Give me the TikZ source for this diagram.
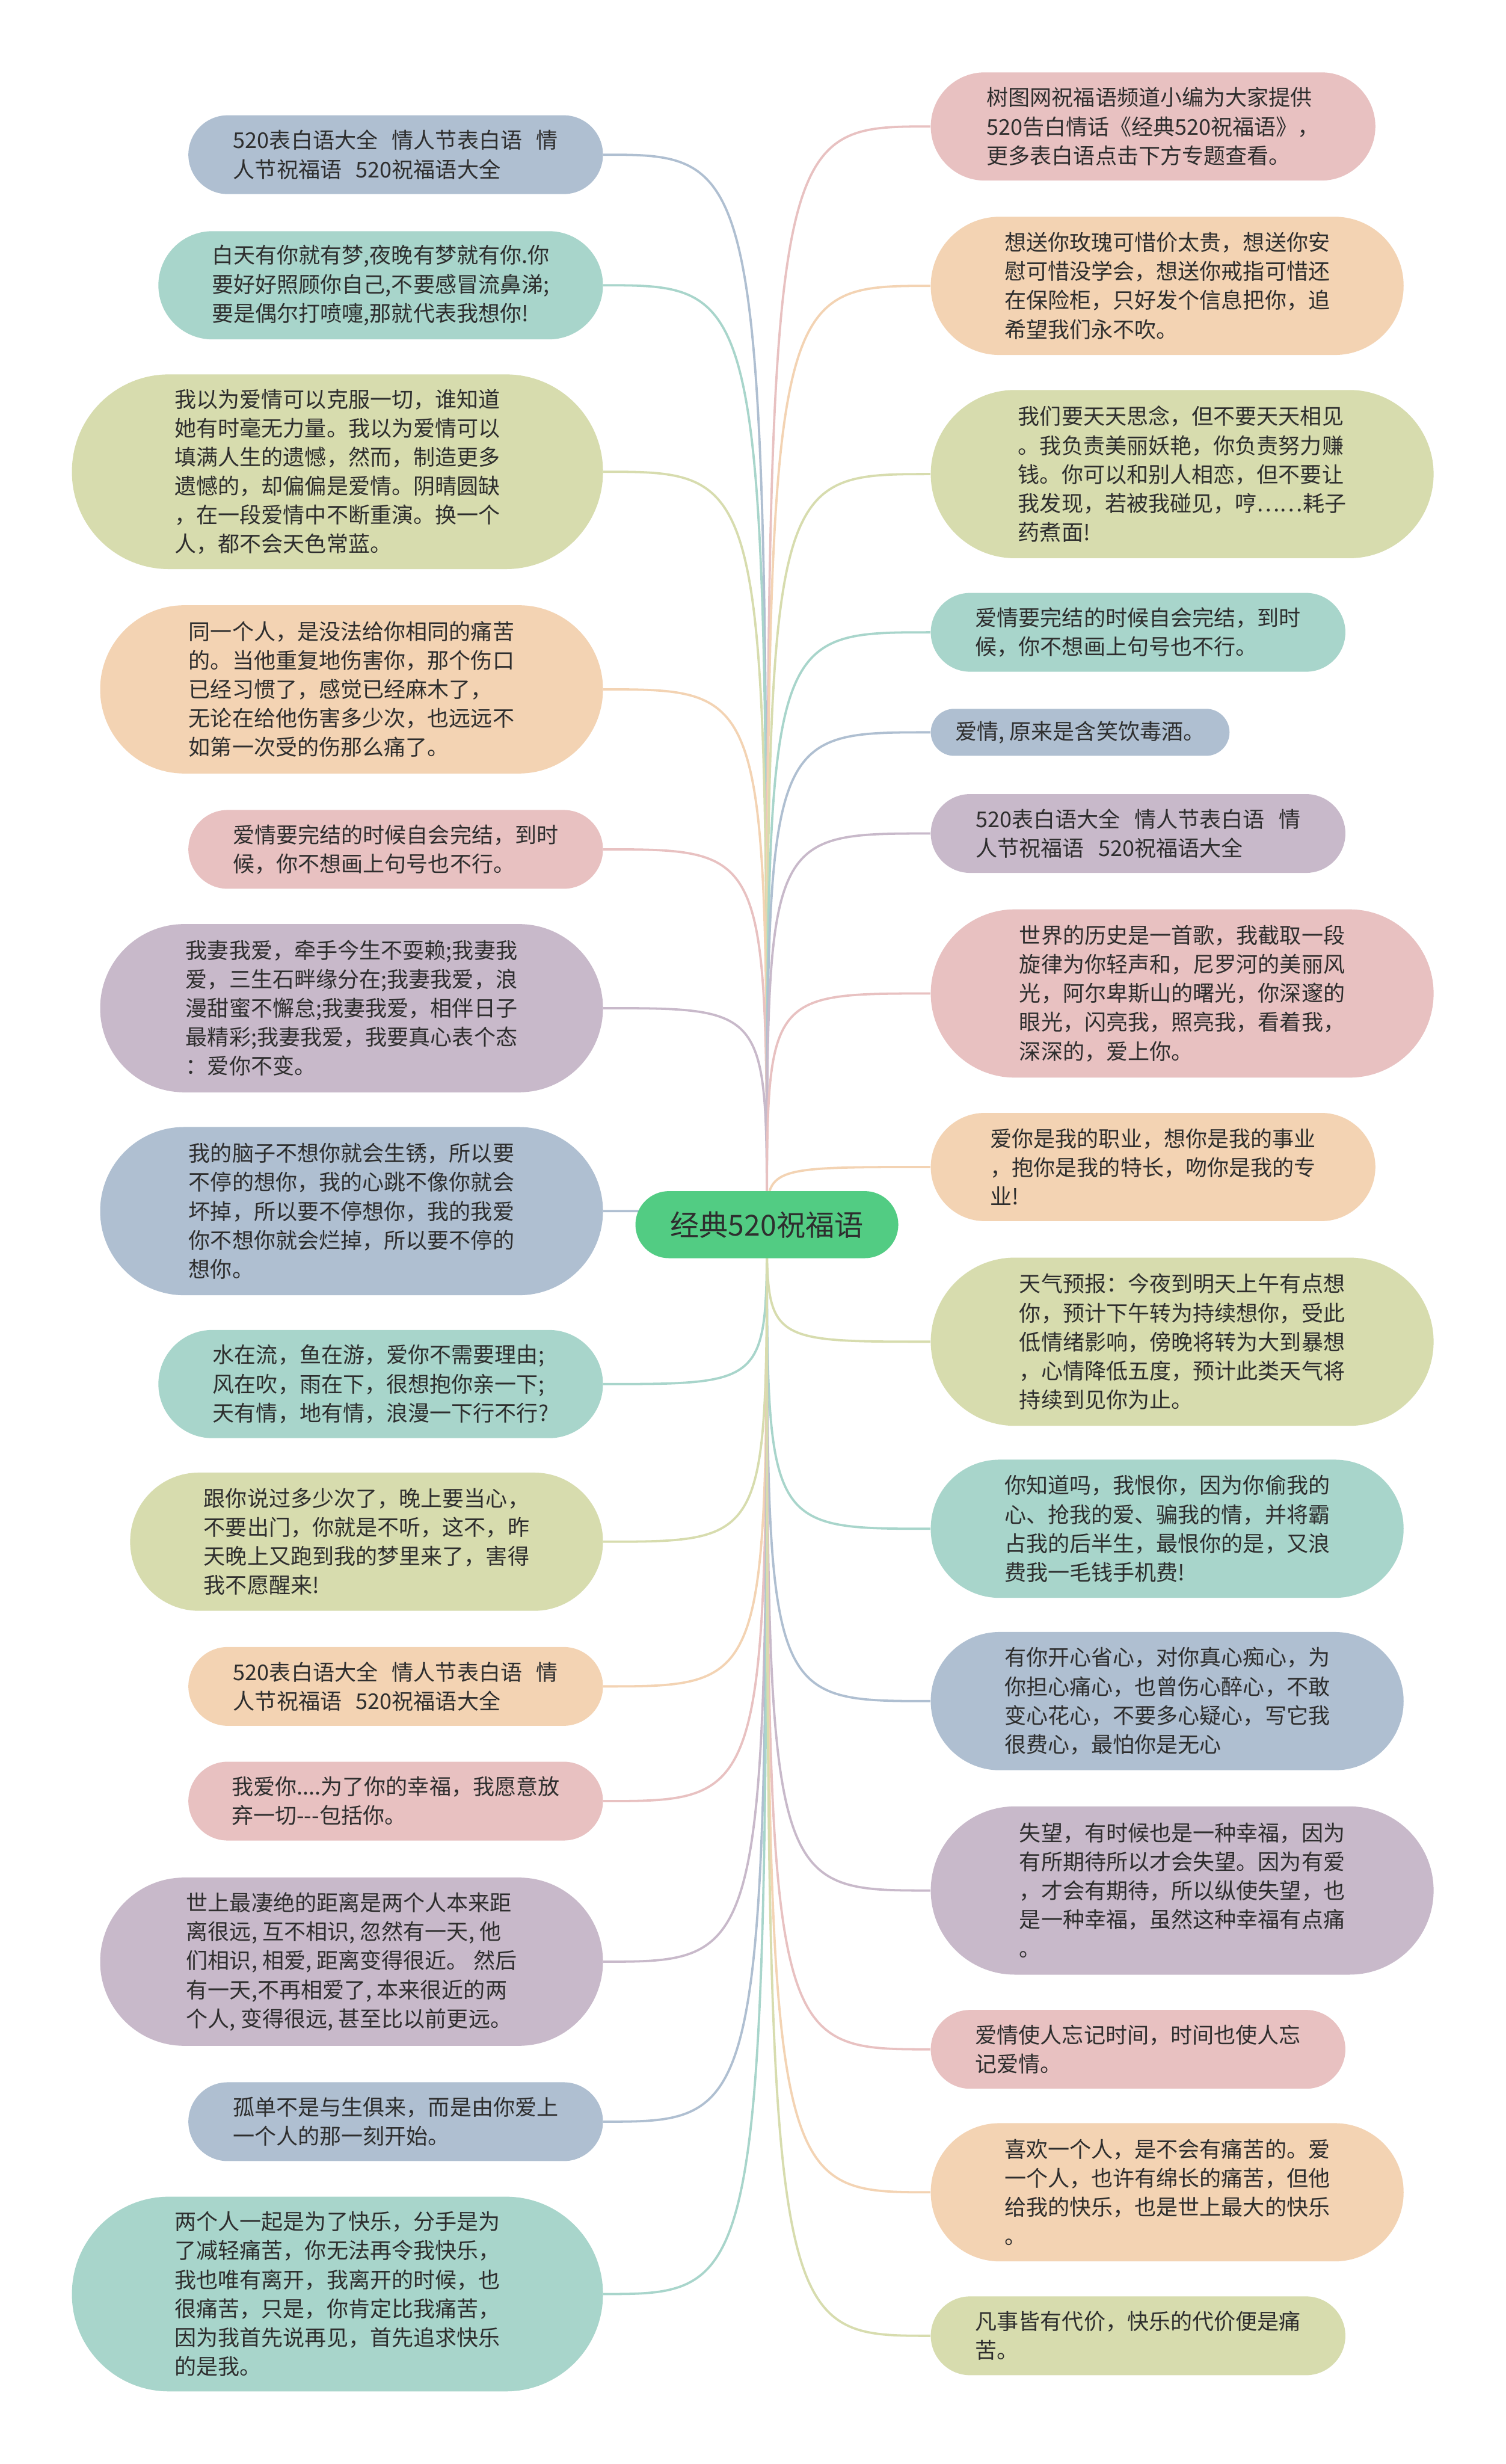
\documentclass[tikz,border=0pt]{standalone}
\usepackage{fontspec}
\setmainfont{Noto Sans CJK SC}
\usetikzlibrary{backgrounds}
\definecolor{cblue}{HTML}{AFBFD1}
\definecolor{cteal}{HTML}{A8D5CB}
\definecolor{colive}{HTML}{D7DCAE}
\definecolor{corange}{HTML}{F3D3B3}
\definecolor{cpink}{HTML}{E8C1C1}
\definecolor{cpurple}{HTML}{C8B9CA}
\definecolor{cgreen}{HTML}{52CC83}
\definecolor{ctext}{HTML}{2E2E2E}
\tikzset{
  bub/.style={draw=none, inner sep=0pt, align=left, text=ctext,
    font=\fontsize{10.5pt}{14pt}\selectfont},
  lbub/.style={bub, anchor=east},
  rbub/.style={bub, anchor=west},
  conn/.style={line width=1.1pt},
}
\newcommand{\gp}{\hspace{0.65em}}
\begin{document}
\begin{tikzpicture}[x=1cm,y=-1cm]
\useasboundingbox (0,0) rectangle (25.6,41.89);

% central node
\node[fill=cgreen, draw=none, minimum width=4.47cm, minimum height=1.14cm, rounded corners=0.57cm,
  text=ctext, font=\fontsize{14pt}{16pt}\selectfont, inner sep=0pt] (c) at (13.04,20.82) {经典520祝福语};

% left bubbles
\node[lbub, fill=cblue, minimum width=7.05cm, minimum height=1.34cm, rounded corners=0.67cm] (L1) at (10.26,2.63)
 {520表白语大全\gp 情人节表白语\gp 情\\人节祝福语\gp 520祝福语大全};
\node[lbub, fill=cteal, minimum width=7.56cm, minimum height=1.84cm, rounded corners=0.92cm] (L2) at (10.26,4.85)
 {白天有你就有梦,夜晚有梦就有你.你\\要好好照顾你自己,不要感冒流鼻涕;\\要是偶尔打喷嚏,那就代表我想你!};
\node[lbub, fill=colive, minimum width=9.03cm, minimum height=3.31cm, rounded corners=1.65cm] (L3) at (10.26,8.02)
 {我以为爱情可以克服一切，谁知道\\她有时毫无力量。我以为爱情可以\\填满人生的遗憾，然而，制造更多\\遗憾的，却偏偏是爱情。阴晴圆缺\\，在一段爱情中不断重演。换一个\\人，都不会天色常蓝。};
\node[lbub, fill=corange, minimum width=8.55cm, minimum height=2.86cm, rounded corners=1.43cm] (L4) at (10.26,11.72)
 {同一个人，是没法给你相同的痛苦\\的。当他重复地伤害你，那个伤口\\已经习惯了，感觉已经麻木了，\\无论在给他伤害多少次，也远远不\\如第一次受的伤那么痛了。};
\node[lbub, fill=cpink, minimum width=7.05cm, minimum height=1.34cm, rounded corners=0.67cm] (L5) at (10.26,14.44)
 {爱情要完结的时候自会完结，到时\\候，你不想画上句号也不行。};
\node[lbub, fill=cpurple, minimum width=8.55cm, minimum height=2.86cm, rounded corners=1.43cm] (L6) at (10.26,17.14)
 {我妻我爱，牵手今生不耍赖;我妻我\\爱，三生石畔缘分在;我妻我爱，浪\\漫甜蜜不懈怠;我妻我爱，相伴日子\\最精彩;我妻我爱，我要真心表个态\\：爱你不变。};
\node[lbub, fill=cblue, minimum width=8.55cm, minimum height=2.86cm, rounded corners=1.43cm] (L7) at (10.26,20.59)
 {我的脑子不想你就会生锈，所以要\\不停的想你，我的心跳不像你就会\\坏掉，所以要不停想你，我的我爱\\你不想你就会烂掉，所以要不停的\\想你。};
\node[lbub, fill=cteal, minimum width=7.56cm, minimum height=1.84cm, rounded corners=0.92cm] (L8) at (10.26,23.53)
 {水在流，鱼在游，爱你不需要理由;\\风在吹，雨在下，很想抱你亲一下;\\天有情，地有情，浪漫一下行不行?};
\node[lbub, fill=colive, minimum width=8.04cm, minimum height=2.35cm, rounded corners=1.17cm] (L9) at (10.26,26.21)
 {跟你说过多少次了，晚上要当心，\\不要出门，你就是不听，这不，昨\\天晚上又跑到我的梦里来了，害得\\我不愿醒来!};
\node[lbub, fill=corange, minimum width=7.05cm, minimum height=1.34cm, rounded corners=0.67cm] (L10) at (10.26,28.67)
 {520表白语大全\gp 情人节表白语\gp 情\\人节祝福语\gp 520祝福语大全};
\node[lbub, fill=cpink, minimum width=7.05cm, minimum height=1.34cm, rounded corners=0.67cm] (L11) at (10.26,30.62)
 {我爱你....为了你的幸福，我愿意放\\弃一切-{}-{}-包括你。};
\node[lbub, fill=cpurple, minimum width=8.55cm, minimum height=2.86cm, rounded corners=1.43cm] (L12) at (10.26,33.35)
 {世上最凄绝的距离是两个人本来距\\离很远, 互不相识, 忽然有一天, 他\\们相识, 相爱, 距离变得很近。 然后\\有一天,不再相爱了, 本来很近的两\\个人, 变得很远, 甚至比以前更远。};
\node[lbub, fill=cblue, minimum width=7.05cm, minimum height=1.34cm, rounded corners=0.67cm] (L13) at (10.26,36.07)
 {孤单不是与生俱来，而是由你爱上\\一个人的那一刻开始。};
\node[lbub, fill=cteal, minimum width=9.03cm, minimum height=3.31cm, rounded corners=1.65cm] (L14) at (10.26,39.00)
 {两个人一起是为了快乐，分手是为\\了减轻痛苦，你无法再令我快乐，\\我也唯有离开，我离开的时候，也\\很痛苦，只是，你肯定比我痛苦，\\因为我首先说再见，首先追求快乐\\的是我。};

% right bubbles
\node[rbub, fill=cpink, minimum width=7.56cm, minimum height=1.84cm, rounded corners=0.92cm] (R1) at (15.82,2.15)
 {树图网祝福语频道小编为大家提供\\520告白情话《经典520祝福语》，\\更多表白语点击下方专题查看。};
\node[rbub, fill=corange, minimum width=8.04cm, minimum height=2.35cm, rounded corners=1.17cm] (R2) at (15.82,4.86)
 {想送你玫瑰可惜价太贵，想送你安\\慰可惜没学会，想送你戒指可惜还\\在保险柜，只好发个信息把你，追\\希望我们永不吹。};
\node[rbub, fill=colive, minimum width=8.55cm, minimum height=2.86cm, rounded corners=1.43cm] (R3) at (15.82,8.06)
 {我们要天天思念，但不要天天相见\\。我负责美丽妖艳，你负责努力赚\\钱。你可以和别人相恋，但不要让\\我发现，若被我碰见，哼……耗子\\药煮面!};
\node[rbub, fill=cteal, minimum width=7.05cm, minimum height=1.34cm, rounded corners=0.67cm] (R4) at (15.82,10.75)
 {爱情要完结的时候自会完结，到时\\候，你不想画上句号也不行。};
\node[rbub, fill=cblue, minimum width=5.08cm, minimum height=0.80cm, rounded corners=0.40cm] (R5) at (15.82,12.45)
 {爱情, 原来是含笑饮毒酒。};
\node[rbub, fill=cpurple, minimum width=7.05cm, minimum height=1.34cm, rounded corners=0.67cm] (R6) at (15.82,14.17)
 {520表白语大全\gp 情人节表白语\gp 情\\人节祝福语\gp 520祝福语大全};
\node[rbub, fill=cpink, minimum width=8.55cm, minimum height=2.86cm, rounded corners=1.43cm] (R7) at (15.82,16.89)
 {世界的历史是一首歌，我截取一段\\旋律为你轻声和，尼罗河的美丽风\\光，阿尔卑斯山的曙光，你深邃的\\眼光，闪亮我，照亮我，看着我，\\深深的，爱上你。};
\node[rbub, fill=corange, minimum width=7.56cm, minimum height=1.84cm, rounded corners=0.92cm] (R8) at (15.82,19.84)
 {爱你是我的职业，想你是我的事业\\，抱你是我的特长，吻你是我的专\\业!};
\node[rbub, fill=colive, minimum width=8.55cm, minimum height=2.86cm, rounded corners=1.43cm] (R9) at (15.82,22.81)
 {天气预报：今夜到明天上午有点想\\你，预计下午转为持续想你，受此\\低情绪影响，傍晚将转为大到暴想\\，心情降低五度，预计此类天气将\\持续到见你为止。};
\node[rbub, fill=cteal, minimum width=8.04cm, minimum height=2.35cm, rounded corners=1.17cm] (R10) at (15.82,25.99)
 {你知道吗，我恨你，因为你偷我的\\心、抢我的爱、骗我的情，并将霸\\占我的后半生，最恨你的是，又浪\\费我一毛钱手机费!};
\node[rbub, fill=cblue, minimum width=8.04cm, minimum height=2.35cm, rounded corners=1.17cm] (R11) at (15.82,28.92)
 {有你开心省心，对你真心痴心，为\\你担心痛心，也曾伤心醉心，不敢\\变心花心，不要多心疑心，写它我\\很费心，最怕你是无心};
\node[rbub, fill=cpurple, minimum width=8.55cm, minimum height=2.86cm, rounded corners=1.43cm] (R12) at (15.82,32.14)
 {失望，有时候也是一种幸福，因为\\有所期待所以才会失望。因为有爱\\，才会有期待，所以纵使失望，也\\是一种幸福，虽然这种幸福有点痛\\。};
\node[rbub, fill=cpink, minimum width=7.05cm, minimum height=1.34cm, rounded corners=0.67cm] (R13) at (15.82,34.84)
 {爱情使人忘记时间，时间也使人忘\\记爱情。};
\node[rbub, fill=corange, minimum width=8.04cm, minimum height=2.35cm, rounded corners=1.17cm] (R14) at (15.82,37.27)
 {喜欢一个人，是不会有痛苦的。爱\\一个人，也许有绵长的痛苦，但他\\给我的快乐，也是世上最大的快乐\\。};
\node[rbub, fill=colive, minimum width=7.05cm, minimum height=1.34cm, rounded corners=0.67cm] (R15) at (15.82,39.71)
 {凡事皆有代价，快乐的代价便是痛\\苦。};

\begin{scope}[on background layer]
\fill[white] (0,0) rectangle (25.6,41.89);
\foreach \n/\cc in {L1/cblue,L2/cteal,L3/colive,L4/corange,L5/cpink,L6/cpurple,L7/cblue,L8/cteal,L9/colive,L10/corange,L11/cpink,L12/cpurple,L13/cblue,L14/cteal}
  \draw[conn,\cc] (c.center) .. controls (c.center |- \n.east) .. (\n.east);
\foreach \n/\cc in {R1/cpink,R2/corange,R3/colive,R4/cteal,R5/cblue,R6/cpurple,R7/cpink,R8/corange,R9/colive,R10/cteal,R11/cblue,R12/cpurple,R13/cpink,R14/corange,R15/colive}
  \draw[conn,\cc] (c.center) .. controls (c.center |- \n.west) .. (\n.west);
\end{scope}
\end{tikzpicture}
\end{document}
